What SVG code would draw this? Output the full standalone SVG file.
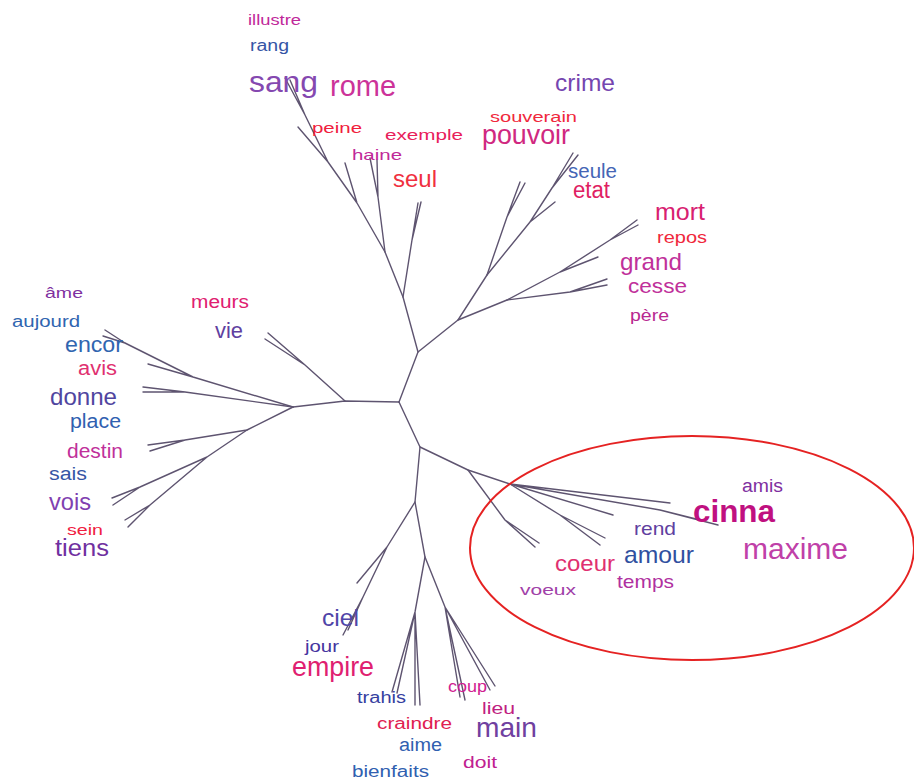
<svg xmlns="http://www.w3.org/2000/svg" width="914" height="780" viewBox="0 0 914 780">
<style>
.e{fill:none;stroke:#5e5470;stroke-width:1.4;stroke-linecap:round;stroke-linejoin:round}
text{font-family:"Liberation Sans","DejaVu Sans",Arial,sans-serif}
</style>
<rect width="914" height="780" fill="#ffffff"/>
<g id="connectors" class="e">
<path d="M399,402 L345,401 L293,407"/>
<path d="M345,401 L305,365 L268,333 M305,365 L265,339"/>
<path d="M293,407 L193,377 L125,343 L105,330 M125,343 L103,336 M193,377 L148,364"/>
<path d="M293,407 L185,392 L143,387 M185,392 L143,392"/>
<path d="M293,407 L247,430 L185,440 L148,445 M185,440 L150,451"/>
<path d="M247,430 L207,457 L140,487 L112,498 M140,487 L113,505 M207,457 L150,505 L125,520 M150,505 L128,527"/>
<path d="M399,402 L418,352 L403,297 L412,240 L418,203 M412,240 L421,202"/>
<path d="M403,297 L385,252 L378,197 L370,158 M378,197 L377,160"/>
<path d="M385,252 L357,203 L345,163 M357,203 L328,162 L298,127 M328,162 L305,115 L285,78 M305,115 L290,80"/>
<path d="M418,352 L458,320 L487,275 L507,217 L520,182 M507,217 L525,183"/>
<path d="M487,275 L530,222 L555,202 M530,222 L552,188 L573,153 M552,188 L578,155"/>
<path d="M458,320 L507,300 L560,272 L598,257 M560,272 L610,240 L637,220 M610,240 L638,225"/>
<path d="M507,300 L570,292 L607,279 M570,292 L607,285"/>
<path d="M399,402 L420,447 L468,470 L510,484 L670,503 M510,484 L613,515 M510,484 L660,510 L718,525 M660,510 L700,520"/>
<path d="M510,484 L560,515 L600,545 M560,515 L605,538"/>
<path d="M468,470 L505,520 L535,547 M505,520 L539,543"/>
<path d="M420,447 L415,502 L387,547 L357,583 M387,547 L363,597 L343,635 M363,597 L348,630"/>
<path d="M415,502 L425,557 L415,612 L392,692 M415,612 L397,693 M415,612 L415,705 M415,612 L420,705"/>
<path d="M425,557 L445,607 L460,697 M445,607 L465,700 M445,607 L490,690 M445,607 L495,686"/>
</g>
<ellipse id="highlight" cx="692" cy="548" rx="222" ry="112" fill="none" stroke="#e52222" stroke-width="2"/>
<g id="n-illustre"><text x="248" y="25" font-size="15" textLength="53" lengthAdjust="spacingAndGlyphs" fill="#c0289a">illustre</text></g>
<g id="n-rang"><text x="250" y="51" font-size="16" textLength="39" lengthAdjust="spacingAndGlyphs" fill="#3555a5">rang</text></g>
<g id="n-sang"><text x="249" y="92" font-size="30" textLength="69" lengthAdjust="spacingAndGlyphs" fill="#8548b0">sang</text></g>
<g id="n-rome"><text x="330" y="96" font-size="29" textLength="66" lengthAdjust="spacingAndGlyphs" fill="#cc3399">rome</text></g>
<g id="n-peine"><text x="312" y="133" font-size="15" textLength="50" lengthAdjust="spacingAndGlyphs" fill="#f0203c">peine</text></g>
<g id="n-exemple"><text x="385" y="140" font-size="15" textLength="78" lengthAdjust="spacingAndGlyphs" fill="#e8205a">exemple</text></g>
<g id="n-haine"><text x="352" y="160" font-size="15" textLength="50" lengthAdjust="spacingAndGlyphs" fill="#c02898">haine</text></g>
<g id="n-seul"><text x="393" y="187" font-size="24" textLength="44" lengthAdjust="spacingAndGlyphs" fill="#f03040">seul</text></g>
<g id="n-crime"><text x="555" y="91" font-size="24" textLength="60" lengthAdjust="spacingAndGlyphs" fill="#7545b0">crime</text></g>
<g id="n-souverain"><text x="490" y="122" font-size="14" textLength="87" lengthAdjust="spacingAndGlyphs" fill="#f0283c">souverain</text></g>
<g id="n-pouvoir"><text x="482" y="144" font-size="27" textLength="88" lengthAdjust="spacingAndGlyphs" fill="#d02880">pouvoir</text></g>
<g id="n-seule"><text x="568" y="178" font-size="20" textLength="49" lengthAdjust="spacingAndGlyphs" fill="#4565b5">seule</text></g>
<g id="n-etat"><text x="573" y="198" font-size="23" textLength="37" lengthAdjust="spacingAndGlyphs" fill="#e02062">etat</text></g>
<g id="n-mort"><text x="655" y="220" font-size="24" textLength="50" lengthAdjust="spacingAndGlyphs" fill="#d82070">mort</text></g>
<g id="n-repos"><text x="657" y="243" font-size="16" textLength="50" lengthAdjust="spacingAndGlyphs" fill="#f0283c">repos</text></g>
<g id="n-grand"><text x="620" y="270" font-size="24" textLength="62" lengthAdjust="spacingAndGlyphs" fill="#c0309a">grand</text></g>
<g id="n-cesse"><text x="628" y="293" font-size="20" textLength="59" lengthAdjust="spacingAndGlyphs" fill="#c0309a">cesse</text></g>
<g id="n-pere"><text x="630" y="321" font-size="16" textLength="39" lengthAdjust="spacingAndGlyphs" fill="#b82890">père</text></g>
<g id="n-ame"><text x="45" y="298" font-size="15" textLength="38" lengthAdjust="spacingAndGlyphs" fill="#8030a0">âme</text></g>
<g id="n-aujourd"><text x="12" y="327" font-size="16" textLength="68" lengthAdjust="spacingAndGlyphs" fill="#3065b0">aujourd</text></g>
<g id="n-encor"><text x="65" y="352" font-size="22" textLength="58" lengthAdjust="spacingAndGlyphs" fill="#3065b0">encor</text></g>
<g id="n-avis"><text x="78" y="375" font-size="20" textLength="39" lengthAdjust="spacingAndGlyphs" fill="#e03070">avis</text></g>
<g id="n-donne"><text x="50" y="405" font-size="24" textLength="67" lengthAdjust="spacingAndGlyphs" fill="#5045a0">donne</text></g>
<g id="n-place"><text x="70" y="428" font-size="20" textLength="51" lengthAdjust="spacingAndGlyphs" fill="#3060b0">place</text></g>
<g id="n-destin"><text x="67" y="458" font-size="20" textLength="56" lengthAdjust="spacingAndGlyphs" fill="#c0309a">destin</text></g>
<g id="n-sais"><text x="49" y="480" font-size="18" textLength="38" lengthAdjust="spacingAndGlyphs" fill="#3555a5">sais</text></g>
<g id="n-vois"><text x="49" y="510" font-size="24" textLength="42" lengthAdjust="spacingAndGlyphs" fill="#8040b0">vois</text></g>
<g id="n-sein"><text x="67" y="535" font-size="14" textLength="36" lengthAdjust="spacingAndGlyphs" fill="#f02040">sein</text></g>
<g id="n-tiens"><text x="55" y="556" font-size="23" textLength="54" lengthAdjust="spacingAndGlyphs" fill="#7030a0">tiens</text></g>
<g id="n-meurs"><text x="191" y="308" font-size="18" textLength="58" lengthAdjust="spacingAndGlyphs" fill="#e02070">meurs</text></g>
<g id="n-vie"><text x="215" y="338" font-size="22" textLength="28" lengthAdjust="spacingAndGlyphs" fill="#6040a0">vie</text></g>
<g id="n-amis"><text x="742" y="492" font-size="18" textLength="41" lengthAdjust="spacingAndGlyphs" fill="#8030a0">amis</text></g>
<g id="n-cinna"><text x="693" y="522" font-size="32" font-weight="bold" textLength="82" lengthAdjust="spacingAndGlyphs" fill="#c01080">cinna</text></g>
<g id="n-rend"><text x="634" y="535" font-size="19" textLength="42" lengthAdjust="spacingAndGlyphs" fill="#6040a0">rend</text></g>
<g id="n-maxime"><text x="743" y="559" font-size="29" textLength="105" lengthAdjust="spacingAndGlyphs" fill="#c040a8">maxime</text></g>
<g id="n-amour"><text x="624" y="563" font-size="24" textLength="70" lengthAdjust="spacingAndGlyphs" fill="#3050a0">amour</text></g>
<g id="n-coeur"><text x="555" y="571" font-size="22" textLength="60" lengthAdjust="spacingAndGlyphs" fill="#e03070">coeur</text></g>
<g id="n-temps"><text x="617" y="588" font-size="19" textLength="57" lengthAdjust="spacingAndGlyphs" fill="#b030a0">temps</text></g>
<g id="n-voeux"><text x="520" y="595" font-size="15" textLength="56" lengthAdjust="spacingAndGlyphs" fill="#a040a8">voeux</text></g>
<g id="n-ciel"><text x="322" y="626" font-size="24" textLength="37" lengthAdjust="spacingAndGlyphs" fill="#5045a8">ciel</text></g>
<g id="n-jour"><text x="305" y="652" font-size="17" textLength="34" lengthAdjust="spacingAndGlyphs" fill="#4535a0">jour</text></g>
<g id="n-empire"><text x="292" y="676" font-size="27" textLength="82" lengthAdjust="spacingAndGlyphs" fill="#e02070">empire</text></g>
<g id="n-trahis"><text x="357" y="703" font-size="16" textLength="49" lengthAdjust="spacingAndGlyphs" fill="#3540a0">trahis</text></g>
<g id="n-craindre"><text x="377" y="729" font-size="16" textLength="75" lengthAdjust="spacingAndGlyphs" fill="#e02050">craindre</text></g>
<g id="n-coup"><text x="448" y="692" font-size="16" textLength="39" lengthAdjust="spacingAndGlyphs" fill="#d02090">coup</text></g>
<g id="n-lieu"><text x="482" y="714" font-size="16" textLength="33" lengthAdjust="spacingAndGlyphs" fill="#c02080">lieu</text></g>
<g id="n-main"><text x="476" y="737" font-size="28" textLength="61" lengthAdjust="spacingAndGlyphs" fill="#7040a0">main</text></g>
<g id="n-aime"><text x="399" y="751" font-size="18" textLength="43" lengthAdjust="spacingAndGlyphs" fill="#3060b0">aime</text></g>
<g id="n-doit"><text x="463" y="768" font-size="16" textLength="34" lengthAdjust="spacingAndGlyphs" fill="#c02090">doit</text></g>
<g id="n-bienfaits"><text x="352" y="777" font-size="16" textLength="77" lengthAdjust="spacingAndGlyphs" fill="#3060b0">bienfaits</text></g>
</svg>
